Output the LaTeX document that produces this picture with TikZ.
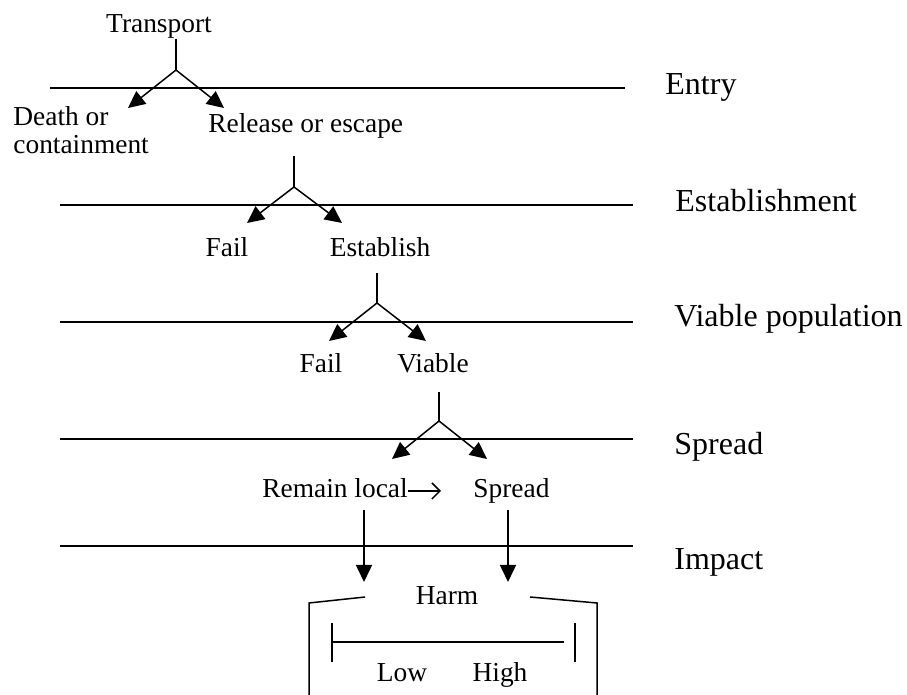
\documentclass[tikz,border=0pt]{standalone}
\usepackage{fontspec}
\setmainfont{Liberation Serif}
\usetikzlibrary{arrows.meta, positioning}
\tikzstyle{txt} = [inner sep = 0pt, font = \fontsize{13.7}{14}\selectfont]
\tikzstyle{stage} = [inner sep = 0pt, anchor = base west, font = \fontsize{16}{19}\selectfont]
\tikzstyle{line} = [draw, line width = 0.75pt]
\tikzstyle{branch} = [draw, line width = 0.75pt, -{Triangle[length = 8.5pt, width = 8pt]}]
\tikzstyle{side} = [draw, line width = 0.75pt, -{Straight Barb[length = 4pt, width = 8pt]}]

\begin{document}
\begin{tikzpicture}[x = 0.5pt, y = -0.5pt]
			\useasboundingbox (0, 0) rectangle (907, 695);

			% stage lines
			\coordinate (l1a) at (50, 88);   \coordinate (l1b) at (625, 88);
			\coordinate (l2a) at (60, 205);  \coordinate (l2b) at (633, 205);
			\coordinate (l3a) at (60, 322);  \coordinate (l3b) at (633, 322);
			\coordinate (l4a) at (60, 439);  \coordinate (l4b) at (633, 439);
			\coordinate (l5a) at (60, 546);  \coordinate (l5b) at (633, 546);

			\node [stage] (entry) at (665, 95) {Entry};
			\node [stage] (estab) at (675, 212) {Establishment};
			\node [stage] (viapop) at (674, 327) {Viable population};
			\node [stage] (spreadst) at (674, 455) {Spread};
			\node [stage] (impact) at (674, 570) {Impact};

			% entry
			\node [txt, anchor = base] (transport) at (159, 33) {Transport};
			\node [txt, anchor = north west, align = left] (death) at (13, 106) {Death or\\containment};
			\node [txt, anchor = base west] (release) at (208, 133) {Release or escape};
			\coordinate (a1) at (176, 70);
			\coordinate (t1l) at (128, 108);
			\coordinate (t1r) at (224, 108);

			% establishment
			\coordinate (s2) at (294, 156);
			\coordinate (a2) at (294, 187);
			\coordinate (t2l) at (247, 223);
			\coordinate (t2r) at (342, 223);
			\node [txt, anchor = base] (fail1) at (227, 257) {Fail};
			\node [txt, anchor = base] (establish) at (380, 257) {Establish};

			% viable
			\coordinate (s3) at (377, 273);
			\coordinate (a3) at (377, 303);
			\coordinate (t3l) at (329, 341);
			\coordinate (t3r) at (426, 341);
			\node [txt, anchor = base] (fail2) at (321, 373) {Fail};
			\node [txt, anchor = base] (viable) at (433, 373) {Viable};

			% spread
			\coordinate (s4) at (439, 392);
			\coordinate (a4) at (439, 421);
			\coordinate (t4l) at (392, 459);
			\coordinate (t4r) at (487, 459);
			\node [txt, anchor = base west] (local) at (262, 498) {Remain local};
			\node [txt, anchor = base west] (spread) at (473, 498) {Spread};
			\coordinate (lr) at (441, 491);

			% impact
			\coordinate (i1) at (364, 510);  \coordinate (i1t) at (364, 582);
			\coordinate (i2) at (508, 510);  \coordinate (i2t) at (508, 582);
			\node [txt, anchor = base] (harm) at (447, 605) {Harm};
			\node [txt, anchor = base] (low) at (402, 682) {Low};
			\node [txt, anchor = base] (high) at (500, 682) {High};

			\path [line] (l1a) -- (l1b);
			\path [line] (l2a) -- (l2b);
			\path [line] (l3a) -- (l3b);
			\path [line] (l4a) -- (l4b);
			\path [line] (l5a) -- (l5b);

			\path [line] (a1 |- transport.south) -- (a1);
			\path [branch] (a1) -- (t1l);
			\path [branch] (a1) -- (t1r);
			\path [line] (s2) -- (a2);
			\path [branch] (a2) -- (t2l);
			\path [branch] (a2) -- (t2r);
			\path [line] (s3) -- (a3);
			\path [branch] (a3) -- (t3l);
			\path [branch] (a3) -- (t3r);
			\path [line] (s4) -- (a4);
			\path [branch] (a4) -- (t4l);
			\path [branch] (a4) -- (t4r);
			\path [side] (local.east |- lr) -- (lr);
			\path [branch] (i1) -- (i1t);
			\path [branch] (i2) -- (i2t);

			% harm box and scale
			\path [line] (365, 597) -- (309, 603) -- (309, 695);
			\path [line] (530, 597) -- (597, 603) -- (597, 695);
			\path [line] (332, 623) -- (332, 662);
			\path [line] (332, 642) -- (564, 642);
			\path [line] (575, 623) -- (575, 662);
		\end{tikzpicture}
\end{document}
